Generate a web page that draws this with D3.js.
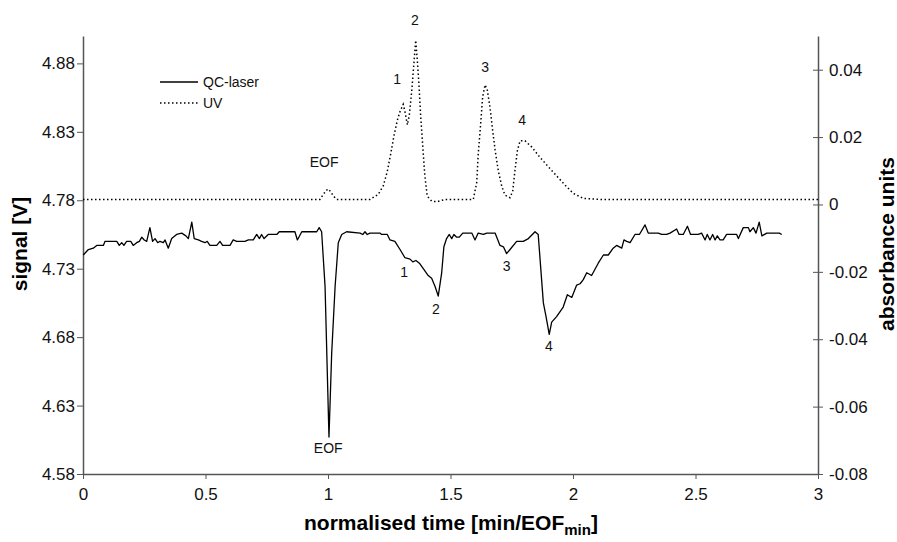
<!DOCTYPE html>
<html>
<head>
<meta charset="utf-8">
<script src="https://cdn.jsdelivr.net/npm/d3@7"></script>
<style>
  body { margin: 0; background: #fff; }
  svg { font-family: "Liberation Sans", Arial, sans-serif; }
</style>
</head>
<body>
<svg id="chart" width="897" height="542"></svg>
<script>
// Chart data (normalised time vs signal)
const laserTime = [0.001,0.022,0.042,0.056,0.083,0.090,0.138,0.148,0.158,0.167,0.178,0.195,0.205,0.219,0.230,0.240,0.250,0.260,0.273,0.284,
  0.294,0.305,0.314,0.328,0.335,0.348,0.362,0.382,0.403,0.420,0.430,0.444,0.454,0.471,0.484,0.498,0.507,0.518,0.532,0.546,
  0.559,0.570,0.600,0.613,0.627,0.661,0.675,0.695,0.709,0.720,0.729,0.739,0.756,0.791,0.801,0.865,0.875,0.893,0.954,0.964,
  0.974,0.988,1.004,1.015,1.029,1.042,1.056,1.076,1.131,1.142,1.151,1.160,1.171,1.212,1.219,1.242,1.253,1.273,1.294,1.314,
  1.335,1.346,1.359,1.373,1.389,1.409,1.423,1.437,1.450,1.464,1.473,1.484,1.495,1.505,1.514,1.525,1.536,1.550,1.587,1.600,
  1.613,1.634,1.648,1.682,1.702,1.716,1.729,1.743,1.770,1.797,1.818,1.845,1.858,1.879,1.890,1.903,1.913,1.933,1.960,1.977,
  1.995,2.015,2.029,2.042,2.056,2.076,2.103,2.124,2.144,2.164,2.178,2.199,2.208,2.219,2.233,2.253,2.271,2.294,2.307,2.348,
  2.362,2.382,2.396,2.423,2.433,2.450,2.467,2.480,2.511,2.525,2.539,2.548,2.559,2.570,2.580,2.589,2.600,2.613,2.627,2.668,
  2.675,2.695,2.716,2.722,2.736,2.747,2.760,2.771,2.791,2.842,2.852];
const laserSignal = [4.740,4.744,4.745,4.747,4.747,4.750,4.750,4.747,4.749,4.747,4.750,4.750,4.747,4.749,4.750,4.753,4.751,4.750,4.760,4.750,
  4.752,4.749,4.750,4.749,4.751,4.745,4.752,4.755,4.756,4.754,4.752,4.764,4.752,4.751,4.750,4.749,4.750,4.747,4.747,4.747,
  4.750,4.747,4.747,4.751,4.750,4.750,4.751,4.751,4.755,4.752,4.755,4.752,4.755,4.755,4.757,4.757,4.751,4.757,4.757,4.760,
  4.757,4.717,4.607,4.668,4.717,4.749,4.755,4.757,4.756,4.755,4.757,4.755,4.756,4.756,4.755,4.755,4.751,4.750,4.744,4.738,
  4.737,4.735,4.736,4.734,4.730,4.725,4.723,4.717,4.710,4.727,4.746,4.752,4.755,4.752,4.755,4.753,4.753,4.756,4.756,4.751,
  4.756,4.755,4.756,4.756,4.747,4.746,4.741,4.744,4.750,4.750,4.752,4.757,4.755,4.705,4.695,4.682,4.691,4.695,4.702,4.711,
  4.709,4.718,4.719,4.722,4.727,4.725,4.734,4.740,4.740,4.745,4.747,4.745,4.751,4.750,4.749,4.755,4.755,4.762,4.756,4.756,
  4.755,4.755,4.756,4.759,4.755,4.755,4.761,4.755,4.755,4.756,4.751,4.755,4.751,4.755,4.751,4.754,4.751,4.751,4.755,4.755,
  4.752,4.760,4.760,4.757,4.760,4.756,4.764,4.754,4.756,4.756,4.755];

const uvTime = [0,0.845,0.967,0.981,0.992,1.001,1.011,1.022,1.036,1.049,1.171,1.205,1.226,1.242,1.256,1.269,1.283,1.294,1.307,1.314,
  1.324,1.332,1.342,1.351,1.358,1.364,1.371,1.378,1.387,1.395,1.405,1.423,1.444,1.478,1.593,1.607,1.613,1.623,1.631,1.641,
  1.650,1.661,1.671,1.682,1.695,1.709,1.722,1.743,1.754,1.763,1.773,1.784,1.804,1.831,1.865,1.899,1.933,1.967,2.001,2.042,
  2.110,3.0];
const uvAbsorbance = [0.0015,0.0015,0.0015,0.0030,0.0041,0.0046,0.0038,0.0025,0.0015,0.0015,0.0015,0.0030,0.0056,0.0098,0.0150,0.0203,0.0250,0.0276,0.0297,0.0276,
  0.0236,0.0266,0.0339,0.0422,0.0487,0.0433,0.0359,0.0266,0.0171,0.0087,0.0025,0.0010,0.0008,0.0015,0.0015,0.0065,0.0148,0.0238,0.0318,0.0355,
  0.0340,0.0290,0.0226,0.0162,0.0100,0.0055,0.0028,0.0020,0.0040,0.0100,0.0160,0.0189,0.0189,0.0171,0.0140,0.0112,0.0085,0.0058,0.0033,0.0018,
  0.0015,0.0015];

// Peak annotations
const laserLabels = ["EOF","1","2","3","4"];
const laserLabelTime = [1.001,1.311,1.440,1.729,1.902];
const laserLabelSignal = [4.5988,4.7274,4.7003,4.7322,4.6735];
const uvLabels = ["EOF","1","2","3","4"];
const uvLabelTime = [0.984,1.282,1.355,1.641,1.792];
const uvLabelAbs = [0.0126,0.0372,0.0547,0.0408,0.0251];

// Axis ticks
const xTicks = [0,0.5,1,1.5,2,2.5,3];
const leftTicks = [4.58,4.63,4.68,4.73,4.78,4.83,4.88];
const rightTicks = [-0.08,-0.06,-0.04,-0.02,0,0.02,0.04];

const seriesNames = ["QC-laser","UV"];

// Layout
const LEFT = 83, RIGHT = 818, TOP = 36, BOTTOM = 474;
const AXIS_COLOR = '#555';
const FONT_SIZE = 17;
const TITLE_SIZE = 21;

const svg = d3.select('#chart');

const x = d3.scaleLinear().domain([0,3]).range([LEFT,RIGHT]);
const yL = d3.scaleLinear().domain([4.58,4.90]).range([BOTTOM,TOP]);
const yR = d3.scaleLinear().domain([-0.08,0.05]).range([BOTTOM,TOP]);

function styleAxis(g) {
    g.select('.domain').attr('stroke', AXIS_COLOR).attr('stroke-width', 1.5);
    g.selectAll('.tick line').attr('stroke', AXIS_COLOR).attr('stroke-width', 1);
    g.selectAll('.tick text').attr('fill', '#111').style('font-size', FONT_SIZE + 'px')
        .style('font-family', '"Liberation Sans", Arial, sans-serif');
}

// Bottom axis
const gx = svg.append('g')
    .attr('transform', `translate(0,${BOTTOM})`)
    .call(d3.axisBottom(x).tickValues(xTicks).tickSize(5).tickSizeOuter(0).tickPadding(9)
        .tickFormat(d => String(d)));
styleAxis(gx);

// Left axis
const gl = svg.append('g')
    .attr('transform', `translate(${LEFT},0)`)
    .call(d3.axisLeft(yL).tickValues(leftTicks).tickSize(6).tickSizeOuter(0).tickPadding(2)
        .tickFormat(d3.format('.2f')));
styleAxis(gl);

// Right axis, ticks crossing the line
const gr = svg.append('g')
    .attr('transform', `translate(${RIGHT},0)`)
    .call(d3.axisRight(yR).tickValues(rightTicks).tickSize(5).tickSizeOuter(0).tickPadding(6)
        .tickFormat(d => d === 0 ? '0' : d3.format('.2f')(d).replace('\u2212', '-')));
gr.selectAll('.tick line').attr('x1', -5);
styleAxis(gr);

// Lines
const laserData = laserTime.map((t, i) => [t, laserSignal[i]]);
const uvData = uvTime.map((t, i) => [t, uvAbsorbance[i]]);

svg.append('path')
    .datum(uvData)
    .attr('fill', 'none')
    .attr('stroke', '#000')
    .attr('stroke-width', 1.5)
    .attr('stroke-dasharray', '1.5,2.5')
    .attr('d', d3.line().x(d => x(d[0])).y(d => yR(d[1])));

svg.append('path')
    .datum(laserData)
    .attr('fill', 'none')
    .attr('stroke', '#000')
    .attr('stroke-width', 1.3)
    .attr('stroke-linejoin', 'round')
    .attr('d', d3.line().x(d => x(d[0])).y(d => yL(d[1])));

// Peak labels
const labelStyle = sel => sel.attr('text-anchor', 'middle').attr('dominant-baseline', 'central')
    .style('font-size', '14px').attr('fill', '#111');

svg.append('g').selectAll('text')
    .data(laserLabels)
    .join('text')
    .attr('x', (d, i) => x(laserLabelTime[i]))
    .attr('y', (d, i) => yL(laserLabelSignal[i]))
    .text(d => d)
    .call(labelStyle);

svg.append('g').selectAll('text')
    .data(uvLabels)
    .join('text')
    .attr('x', (d, i) => x(uvLabelTime[i]))
    .attr('y', (d, i) => yR(uvLabelAbs[i]))
    .text(d => d)
    .call(labelStyle);

// Legend
const legend = svg.append('g').attr('transform', 'translate(160,82)');
seriesNames.forEach((name, i) => {
    const row = legend.append('g').attr('transform', `translate(0,${i * 21})`);
    row.append('line')
        .attr('x1', 0).attr('x2', 38).attr('y1', 0).attr('y2', 0)
        .attr('stroke', '#000')
        .attr('stroke-width', i === 0 ? 1.3 : 1.5)
        .attr('stroke-dasharray', i === 0 ? null : '1.5,2.5');
    row.append('text')
        .attr('x', 43).attr('y', 0)
        .attr('dominant-baseline', 'central')
        .style('font-size', '14px')
        .attr('fill', '#111')
        .text(name);
});

// Axis titles
svg.append('text')
    .attr('transform', 'translate(27,244) rotate(-90)')
    .attr('text-anchor', 'middle')
    .style('font-size', TITLE_SIZE + 'px').style('font-weight', 'bold')
    .text('signal [V]');

svg.append('text')
    .attr('transform', 'translate(894,244) rotate(-90)')
    .attr('text-anchor', 'middle')
    .style('font-size', TITLE_SIZE + 'px').style('font-weight', 'bold')
    .text('absorbance units');

const xTitle = svg.append('text')
    .attr('x', 451)
    .attr('y', 530)
    .attr('text-anchor', 'middle')
    .style('font-size', TITLE_SIZE + 'px').style('font-weight', 'bold');
xTitle.append('tspan').text('normalised time [min/EOF');
xTitle.append('tspan').attr('dy', 5).style('font-size', '15px').text('min');
xTitle.append('tspan').attr('dy', -5).text(']');
</script>
</body>
</html>
